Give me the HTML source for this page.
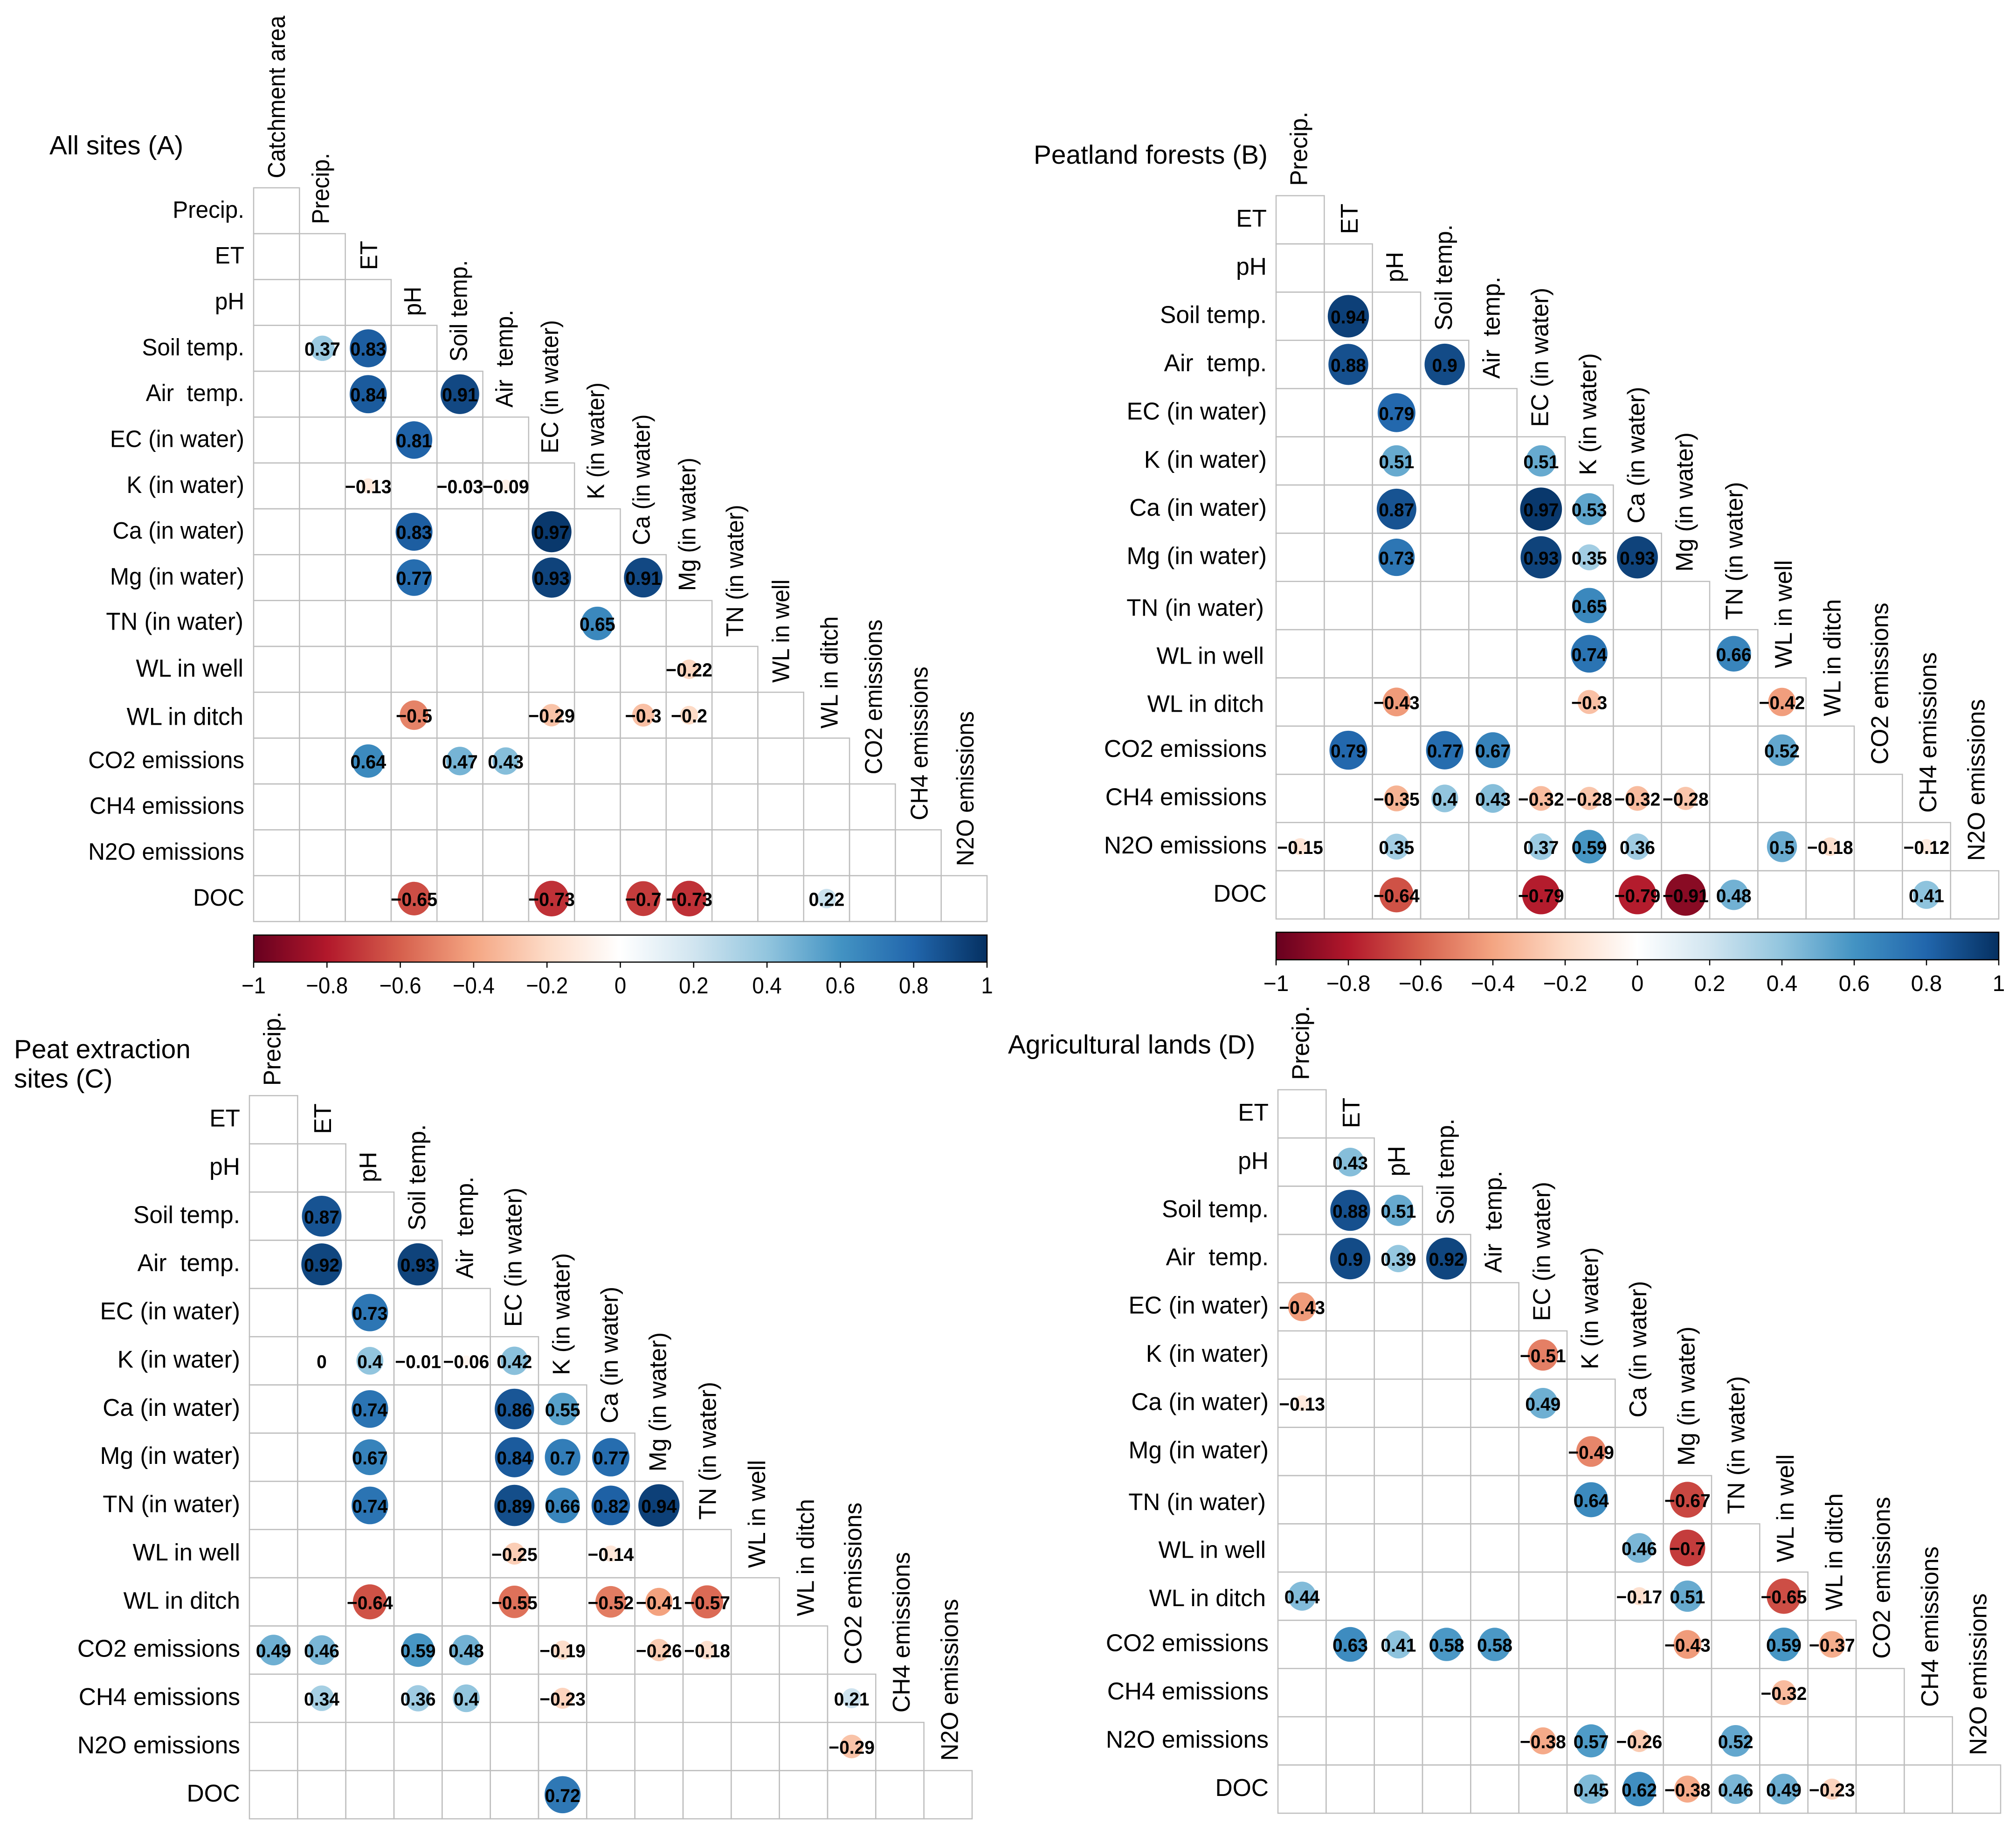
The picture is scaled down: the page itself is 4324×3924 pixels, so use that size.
<!DOCTYPE html>
<html lang="en">
<head>
<meta charset="utf-8">
<title>Correlation matrices by land use</title>
<style>
html,body{margin:0;padding:0;background:#fff;}
svg{display:block;}
text{font-family:"Liberation Sans",Arial,sans-serif;fill:#000;white-space:pre;}
.title{font-size:56.8px;}
</style>
</head>
<body>
<svg id="figure" xmlns="http://www.w3.org/2000/svg" width="4324" height="3924" viewBox="0 0 4324 3924">
  <defs>
    <linearGradient id="rdbu" x1="0" x2="1" y1="0" y2="0"></linearGradient>
  </defs>
  <rect x="0" y="0" width="4324" height="3924" fill="#ffffff"/>
  <text class="title" x="106" y="331">All sites (A)</text>
  <text class="title" x="2217" y="351">Peatland forests (B)</text>
  <text class="title" x="30" y="2269">Peat extraction</text>
  <text class="title" x="30" y="2332">sites (C)</text>
  <text class="title" x="2162" y="2259">Agricultural lands (D)</text>
</svg>
<script>
const paletteColors = ["#67001F","#B2182B","#D6604D","#F4A582","#FDDBC7","#FFFFFF","#D1E5F0","#92C5DE","#4393C3","#2166AC","#053061"];
const colorbarTicks = [-1,-0.8,-0.6,-0.4,-0.2,0,0.2,0.4,0.6,0.8,1];

const rowLabelsA = ["Precip.","ET","pH","Soil temp.","Air  temp.","EC (in water)","K (in water)","Ca (in water)","Mg (in water)","TN (in water)","WL in well","WL in ditch","CO2 emissions","CH4 emissions","N2O emissions","DOC"];
const colLabelsA = ["Catchment area","Precip.","ET","pH","Soil temp.","Air  temp.","EC (in water)","K (in water)","Ca (in water)","Mg (in water)","TN (in water)","WL in well","WL in ditch","CO2 emissions","CH4 emissions","N2O emissions"];
const rowLabelsBCD = ["ET","pH","Soil temp.","Air  temp.","EC (in water)","K (in water)","Ca (in water)","Mg (in water)","TN (in water)","WL in well","WL in ditch","CO2 emissions","CH4 emissions","N2O emissions","DOC"];
const colLabelsBCD = ["Precip.","ET","pH","Soil temp.","Air  temp.","EC (in water)","K (in water)","Ca (in water)","Mg (in water)","TN (in water)","WL in well","WL in ditch","CO2 emissions","CH4 emissions","N2O emissions"];

const _ = null;
const valuesA = [
  [_],
  [_,_],
  [_,_,_],
  [_,0.37,0.83,_],
  [_,_,0.84,_,0.91],
  [_,_,_,0.81,_,_],
  [_,_,-0.13,_,-0.03,-0.09,_],
  [_,_,_,0.83,_,_,0.97,_],
  [_,_,_,0.77,_,_,0.93,_,0.91],
  [_,_,_,_,_,_,_,0.65,_,_],
  [_,_,_,_,_,_,_,_,_,-0.22,_],
  [_,_,_,-0.5,_,_,-0.29,_,-0.3,-0.2,_,_],
  [_,_,0.64,_,0.47,0.43,_,_,_,_,_,_,_],
  [_,_,_,_,_,_,_,_,_,_,_,_,_,_],
  [_,_,_,_,_,_,_,_,_,_,_,_,_,_,_],
  [_,_,_,-0.65,_,_,-0.73,_,-0.7,-0.73,_,_,0.22,_,_,_]
];
const valuesB = [
  [_],
  [_,_],
  [_,0.94,_],
  [_,0.88,_,0.9],
  [_,_,0.79,_,_],
  [_,_,0.51,_,_,0.51],
  [_,_,0.87,_,_,0.97,0.53],
  [_,_,0.73,_,_,0.93,0.35,0.93],
  [_,_,_,_,_,_,0.65,_,_],
  [_,_,_,_,_,_,0.74,_,_,0.66],
  [_,_,-0.43,_,_,_,-0.3,_,_,_,-0.42],
  [_,0.79,_,0.77,0.67,_,_,_,_,_,0.52,_],
  [_,_,-0.35,0.4,0.43,-0.32,-0.28,-0.32,-0.28,_,_,_,_],
  [-0.15,_,0.35,_,_,0.37,0.59,0.36,_,_,0.5,-0.18,_,-0.12],
  [_,_,-0.64,_,_,-0.79,_,-0.79,-0.91,0.48,_,_,_,0.41,_]
];
const valuesC = [
  [_],
  [_,_],
  [_,0.87,_],
  [_,0.92,_,0.93],
  [_,_,0.73,_,_],
  [_,0,0.4,-0.01,-0.06,0.42],
  [_,_,0.74,_,_,0.86,0.55],
  [_,_,0.67,_,_,0.84,0.7,0.77],
  [_,_,0.74,_,_,0.89,0.66,0.82,0.94],
  [_,_,_,_,_,-0.25,_,-0.14,_,_],
  [_,_,-0.64,_,_,-0.55,_,-0.52,-0.41,-0.57,_],
  [0.49,0.46,_,0.59,0.48,_,-0.19,_,-0.26,-0.18,_,_],
  [_,0.34,_,0.36,0.4,_,-0.23,_,_,_,_,_,0.21],
  [_,_,_,_,_,_,_,_,_,_,_,_,-0.29,_],
  [_,_,_,_,_,_,0.72,_,_,_,_,_,_,_,_]
];
const valuesD = [
  [_],
  [_,0.43],
  [_,0.88,0.51],
  [_,0.9,0.39,0.92],
  [-0.43,_,_,_,_],
  [_,_,_,_,_,-0.51],
  [-0.13,_,_,_,_,0.49,_],
  [_,_,_,_,_,_,-0.49,_],
  [_,_,_,_,_,_,0.64,_,-0.67],
  [_,_,_,_,_,_,_,0.46,-0.7,_],
  [0.44,_,_,_,_,_,_,-0.17,0.51,_,-0.65],
  [_,0.63,0.41,0.58,0.58,_,_,_,-0.43,_,0.59,-0.37],
  [_,_,_,_,_,_,_,_,_,_,-0.32,_,_],
  [_,_,_,_,_,-0.38,0.57,-0.26,_,0.52,_,_,_,_],
  [_,_,_,_,_,_,0.45,0.62,-0.38,0.46,0.49,-0.23,_,_,_]
];

const svg = document.getElementById('figure');
const NS = 'http://www.w3.org/2000/svg';

function make(parent, tag, attrs, content) {
  const node = document.createElementNS(NS, tag);
  for (const key in attrs) node.setAttribute(key, attrs[key]);
  if (content !== undefined) node.textContent = content;
  parent.appendChild(node);
  return node;
}
function hexToRgb(hex) {
  return [1,3,5].map(i => parseInt(hex.substr(i,2),16));
}
function colorOf(v) {
  const t = Math.max(0, Math.min(1, (v + 1) / 2)) * (paletteColors.length - 1);
  const i = Math.min(Math.floor(t), paletteColors.length - 2);
  const a = hexToRgb(paletteColors[i]);
  const b = hexToRgb(paletteColors[i + 1]);
  const f = t - i;
  return 'rgb(' + a.map((c, k) => Math.round(c + (b[k] - c) * f)).join(',') + ')';
}
function printed(v) {
  return String(v).replace('-', '\u2212');
}
function slug(s) {
  return s.toLowerCase().replace(/[^a-z0-9]+/g, '-').replace(/^-|-$/g, '');
}

const gradient = document.getElementById('rdbu');
paletteColors.forEach((c, i) => {
  const stop = make(gradient, 'stop', { offset: i / (paletteColors.length - 1), 'stop-color': c });
  
  
});

function drawPanel(id, layout, rowLabels, colLabels, values) {
  const group = make(svg, 'g', {});
  
  

  const cw = (layout.right - layout.left) / colLabels.length;
  const ch = (layout.bottom - layout.top) / rowLabels.length;
  const xAt = c => layout.left + cw * (c + 0.5);
  const yAt = r => layout.top + ch * (r + 0.5);

  values.forEach((row, r) => {
    for (let c = 0; c <= r; c++) {
      const cell = make(group, 'rect', { x: layout.left + c * cw, y: layout.top + r * ch, width: cw, height: ch, fill: 'none', stroke: '#bebebe', 'stroke-width': 2.5 });
      
      
    }
  });

  rowLabels.forEach((label, r) => {
    const tweak = layout.rowTweaks[label] || {};
    const x = layout.left - 20 + (tweak.dx || 0);
    const y = yAt(r) + (tweak.baseline !== undefined ? tweak.baseline : layout.rowBaseline);
    const size = tweak.font || layout.rowFont;
    const t = make(group, 'text', { transform: 'translate(' + x + ',' + y + ') scale(1,' + layout.rowScale + ')', 'text-anchor': 'end', 'font-size': size }, label);
    
    
  });

  colLabels.forEach((label, c) => {
    const x = xAt(c) + layout.colOffsets[label];
    const y = layout.top + c * ch - layout.colGap;
    const stretch = 37.5 / (0.716 * layout.colFont);
    const t = make(group, 'text', { transform: 'translate(' + x + ',' + y + ') scale(' + stretch + ',1) rotate(-90)', 'font-size': layout.colFont }, label);
    
    
  });

  values.forEach((row, r) => {
    row.forEach((v, c) => {
      if (v === null) return;
      const radius = 0.45 * Math.sqrt(Math.abs(v)) * Math.min(cw, ch);
      if (radius > 0) {
        const dot = make(group, 'ellipse', { cx: xAt(c), cy: yAt(r), rx: radius * 0.98, ry: radius * 1.01, fill: colorOf(v) });
        
        
      }
      const label = make(group, 'text', { transform: 'translate(' + xAt(c) + ',' + (yAt(r) + 15.5) + ') scale(1,' + layout.valueScale + ')', 'text-anchor': 'middle', 'font-size': layout.valueFont, 'font-weight': 'bold' }, printed(v));
      
      
    });
  });

  if (layout.bar) {
    const bar = layout.bar;
    const xScale = v => layout.left + (v + 1) / 2 * (layout.right - layout.left);
    const rect = make(group, 'rect', { x: layout.left, y: bar.top, width: layout.right - layout.left, height: bar.bottom - bar.top, fill: 'url(#rdbu)', stroke: '#000', 'stroke-width': 2.5 });
    
    
    colorbarTicks.forEach(v => {
      const tick = make(group, 'line', { x1: xScale(v), x2: xScale(v), y1: bar.bottom, y2: bar.bottom + 12, stroke: '#000', 'stroke-width': 2.5 });
      
      
      const label = make(group, 'text', { transform: 'translate(' + xScale(v) + ',' + bar.baseline + ') scale(1,' + bar.scale + ')', 'text-anchor': 'middle', 'font-size': bar.font }, printed(v));
      
      
    });
  }
}

const colOffsetsA = { "Catchment area": 18, "Precip.": 14, "ET": 19, "pH": 14.5, "Soil temp.": 15, "Air  temp.": 15, "EC (in water)": 14, "K (in water)": 14, "Ca (in water)": 13.7, "Mg (in water)": 13.7, "TN (in water)": 17.5, "WL in well": 18, "WL in ditch": 23.6, "CO2 emissions": 20.4, "CH4 emissions": 19.8, "N2O emissions": 20.4 };
const colOffsetsBCD = { "Precip.": 15, "ET": 20, "pH": 13.5, "Soil temp.": 15.5, "Air  temp.": 14.5, "EC (in water)": 15, "K (in water)": 15, "Ca (in water)": 15, "Mg (in water)": 15, "TN (in water)": 19, "WL in well": 21, "WL in ditch": 22, "CO2 emissions": 21, "CH4 emissions": 21, "N2O emissions": 21 };
const rowTweaksA = { "TN (in water)": { dx: -2, baseline: 13.5, font: 51 }, "WL in well": { dx: -2, baseline: 16, font: 51 }, "WL in ditch": { dx: -2, baseline: 21, font: 51 } };
const rowTweaksShifted = { "TN (in water)": { dx: -6, baseline: 22, font: 51 }, "WL in well": { dx: -6, baseline: 21.5, font: 51 }, "WL in ditch": { dx: -6, baseline: 21.5, font: 51 } };
const rowTweaksC = { "TN (in water)": { font: 51 }, "WL in well": { font: 51 }, "WL in ditch": { font: 51 } };

drawPanel('a', { left: 544, right: 2117, top: 402.7, bottom: 1976, rowFont: 49.4, rowScale: 1.03, rowBaseline: 15, rowTweaks: rowTweaksA, colFont: 49, colGap: 20.5, colOffsets: colOffsetsA, valueFont: 39.5, valueScale: 1.03,
  bar: { top: 2005, bottom: 2063, baseline: 2130, font: 45.6, scale: 1.08 } }, rowLabelsA, colLabelsA, valuesA);
drawPanel('b', { left: 2737, right: 4287, top: 419.6, bottom: 1970.5, rowFont: 51.5, rowScale: 1, rowBaseline: 14.5, rowTweaks: rowTweaksShifted, colFont: 51.2, colGap: 21, colOffsets: colOffsetsBCD, valueFont: 39, valueScale: 1.03,
  bar: { top: 1999, bottom: 2058, baseline: 2125, font: 48, scale: 1 } }, rowLabelsBCD, colLabelsBCD, valuesB);
drawPanel('c', { left: 535, right: 2085, top: 2349.3, bottom: 3900, rowFont: 51.5, rowScale: 1, rowBaseline: 14.5, rowTweaks: rowTweaksC, colFont: 51.2, colGap: 21, colOffsets: colOffsetsBCD, valueFont: 39, valueScale: 1.03 }, rowLabelsBCD, colLabelsBCD, valuesC);
drawPanel('d', { left: 2741, right: 4291, top: 2336.7, bottom: 3888, rowFont: 51.5, rowScale: 1, rowBaseline: 14.5, rowTweaks: rowTweaksShifted, colFont: 51.2, colGap: 21, colOffsets: colOffsetsBCD, valueFont: 39, valueScale: 1.03 }, rowLabelsBCD, colLabelsBCD, valuesD);
</script>
</body>
</html>
